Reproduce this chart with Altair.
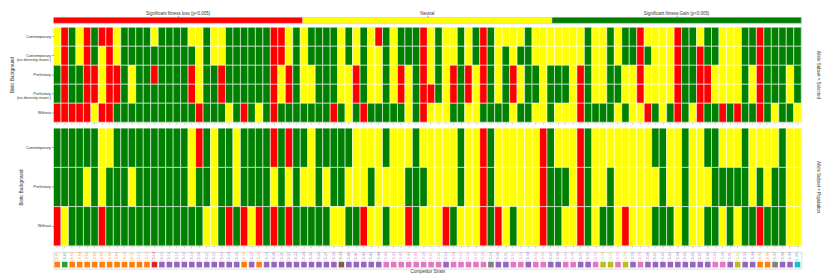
import altair as alt
import pandas as pd

# ---------------- data ----------------
CODES = ["R", "Y", "G"]
CODE_COLORS = ["#ff0000", "#ffff00", "#008000"]
LEGEND_LABELS = ["Significant fitness loss (p<0.005)", "Neutral",
                 "Significant fitness Gain (p<0.005)"]

STRAINS = [f"CS-{i + 1:02d}" for i in range(100)]

GROUPS = ("OGOOOOOOOOOOO" + "R" + "PPPPPPPPPPP" + "OPO" + "PPPPPPPPPP" + "B" +
          "PPPPP" + "KKKKKKKK" + "P" + "KKKKK" + "A" + "PPKKPKKPPKKPPK" +
          "LLKLPK" + "PPPPPPPPP" + "KKPLPP" + "OOAPPC")
GROUP_CODES = ["O", "G", "R", "P", "B", "K", "A", "L", "C"]
GROUP_COLORS = ["#ff7f0e", "#2ca02c", "#d62728", "#9467bd", "#8c564b",
                "#e377c2", "#7f7f7f", "#bcbd22", "#17becf"]

TOP_ROWS = ["Contemporary", "Contemporary|(no diversity maint.)", "Prehistory",
            "Prehistory|(no diversity maint.)", "Without"]
SEL_CONT = ("YRGYRGRRYG" "GGGYGGGGYY" "GYYGGGGGGR" "RYGYGGGGYG" "YGYRGYGGGR"
            "YGYYGYGRGY" "YYYGYYYYYY" "YGYYGYGGRY" "YYYRGGYGGY" "YYGGRGGGGG")
SEL_CONT_ND = ("YRGYRGYRYG" "GGGGGGGGGY" "GYYGGGGGGR" "RYGYGGGGYG" "YGYYGYGGGR"
               "YGYYGYGRGY" "GYGGYYYYYY" "YGYYGYGGRG" "YYYRGGRGGY" "YYGGRGGGGG")
SEL_PRE = ("GRGGRRYRRG" "YGGRGGGGRY" "GGRGGGGGGR" "YRGYYGGGYY" "RGYYGYRYGR"
           "YGYRGRYRGY" "GRYGGYGGGY" "RGYYGGYYRY" "YYYRGGRRYY" "YYGYRGGGYG")
SEL_PRE_ND = ("GRGGRRYRRG" "YGGGGGGGRY" "GGRGGGGGGR" "YRGYYGGGYY" "RGYYGYRYGR"
              "RGYRGRYRGY" "GRYGGYGGGY" "RGYYGGYYRY" "YYYRGGRRYY" "YYGYRGGGYG")
SEL_WITHOUT = ("RRRRRYRRGG" "GGGGGGGGGR" "GGGYGRGYGR" "GGGGGGGRGY" "GRGGGGGYGR"
               "YYYGGYYGGG" "GYGGYYGYYY" "RGGGGYGYYR" "GYGRGYRGGR" "GRGGRGYGGY")
TOP_VALUES = [SEL_CONT, SEL_CONT_ND, SEL_PRE, SEL_PRE_ND, SEL_WITHOUT]

BOT_ROWS = ["Contemporary", "Prehistory", "Without"]
POP_CONT = ("GGGGGGYYGG" "GGGGGGGGYR" "GYGGYGGGGR" "GRGGYGGGGG" "YYYYGYYYGY"
            "YYYYGYYRGY" "YYYYYRGYYY" "RGYYYYYYYY" "GGYYGYYGGY" "YYGYYYYGYY")
POP_PRE = ("GGGGYGYGGG" "YGGGGGGGYG" "GYGGYGGGGY" "GYGYYGYGGY" "YYGYYYYGGG"
           "YYYYGYYRGY" "YYYYYRGGGY" "RGYYGYYYYY" "YGYYGYYYGG" "GGGYGYGGYY")
POP_WITHOUT = ("RYGGGGRGGG" "GGGGGGGGGG" "YYGRGRYRGR" "GRGGGGGYYG" "GRYYGYYRGY"
               "YYRGYYYRGR" "YGYYYRGGYY" "RGYGGYRYYY" "GGGYGYYGGY" "GYGGRGGGYY")
BOT_VALUES = [POP_CONT, POP_PRE, POP_WITHOUT]


def heat_df(rows, values):
    recs = []
    for r, s in zip(rows, values):
        for i, c in enumerate(s):
            recs.append({"strain": STRAINS[i], "bg": r, "v": c})
    return pd.DataFrame(recs)


# ---------------- chart ----------------
W = 756
TXT = "#333333"

color = alt.Color("v:N", scale=alt.Scale(domain=CODES, range=CODE_COLORS), legend=None)


def xs():
    return alt.Scale(type="band", domain=STRAINS, paddingInner=0, paddingOuter=0)


leg_df = pd.DataFrame({"cat": LEGEND_LABELS, "v": CODES})
legend = alt.Chart(leg_df).mark_rect(stroke="#cccccc", strokeWidth=0.5).encode(
    x=alt.X("cat:N", scale=alt.Scale(domain=LEGEND_LABELS, paddingInner=0, paddingOuter=0),
            axis=alt.Axis(orient="top", title=None, labelAngle=0, labelFontSize=4.5,
                          labelPadding=0, tickSize=2, tickWidth=0.5, tickColor="#555",
                          domain=False, labelColor=TXT)),
    color=color,
).properties(width=W, height=6)


def heat(rows, values, height, right_title):
    return alt.Chart(heat_df(rows, values)).mark_rect(
        stroke="white", strokeWidth=1, strokeOpacity=0.55
    ).encode(
        x=alt.X("strain:N", scale=xs(),
                axis=alt.Axis(title=None, labels=False, ticks=True, tickSize=2,
                              tickWidth=0.5, tickColor="#aaaaaa", domain=False)),
        y=alt.Y("bg:N", scale=alt.Scale(domain=rows, paddingInner=0, paddingOuter=0),
                axis=alt.Axis(title="Biotic Background", labelExpr="split(datum.label, '|')",
                              labelFontSize=4, labelLineHeight=4.6, labelColor=TXT,
                              labelPadding=1, tickSize=2, tickWidth=0.5, tickColor="#555",
                              domain=False, titleFontSize=4.5, titleFontWeight="normal",
                              titlePadding=2, titleColor=TXT)),
        color=color,
    ).properties(width=W, height=height,
                 title=alt.TitleParams(right_title, orient="right", fontSize=4.5,
                                       fontWeight="normal", color=TXT, offset=15))


top = heat(TOP_ROWS, TOP_VALUES, 96, "Allele Subset = Selected")
bottom = heat(BOT_ROWS, BOT_VALUES, 119, "Allele Subset = Population")

strip_df = pd.DataFrame({"strain": STRAINS, "grp": list(GROUPS)})
gcolor = alt.Color("grp:N", scale=alt.Scale(domain=GROUP_CODES, range=GROUP_COLORS), legend=None)
base = alt.Chart(strip_df).encode(
    x=alt.X("strain:N", scale=xs(),
            axis=alt.Axis(title="Competitor Strain", labels=False, ticks=False, domain=False,
                          titleFontSize=4.5, titleFontWeight="normal", titlePadding=0,
                          titleColor=TXT)),
    color=gcolor,
)
labels = base.mark_text(angle=270, align="right", baseline="middle", fontSize=3.3,
                        opacity=0.75).encode(text="strain:N", y=alt.value(0.5))
squares = base.mark_square(size=32, opacity=1).encode(y=alt.value(13))
strip = alt.layer(labels, squares).properties(width=W, height=17)

chart = alt.vconcat(legend, top, bottom, strip, spacing=2).resolve_scale(
    x="independent", y="independent", color="independent"
).properties(padding=0).configure_view(strokeWidth=0).configure(font="Liberation Sans")

chart.save("out.html", embed_options={"renderer": "svg", "actions": False})
